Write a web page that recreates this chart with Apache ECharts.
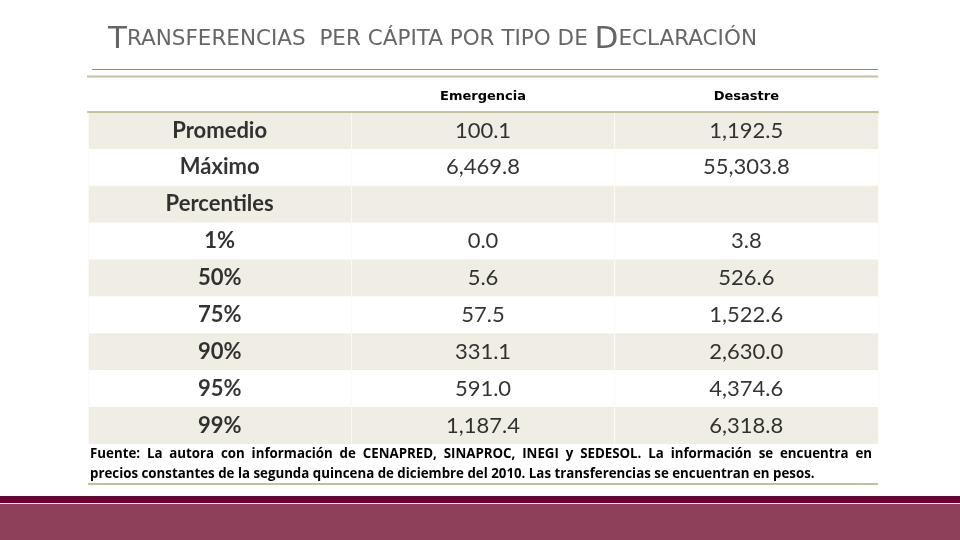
<!DOCTYPE html>
<html>
<head>
<meta charset="utf-8">
<script src="https://cdn.jsdelivr.net/npm/echarts@6/dist/echarts.min.js"></script>
<style>
  html, body { margin: 0; padding: 0; background: #fff; }
  #main { width: 960px; height: 540px; }
</style>
</head>
<body>
<div id="main"></div>
<script>
// columns of the table
const columns = ['', 'Emergencia', 'Desastre'];
// rows of the table
const rowLabels = ['Promedio', 'Máximo', 'Percentiles', '1%', '50%', '75%', '90%', '95%', '99%'];
// per capita transfers (pesos)
const emergencia = [100.1, 6469.8, null, 0.0, 5.6, 57.5, 331.1, 591.0, 1187.4];
const desastre = [1192.5, 55303.8, null, 3.8, 526.6, 1522.6, 2630.0, 4374.6, 6318.8];

const footerLines = [
    'Fuente: La autora con información de CENAPRED, SINAPROC, INEGI y  SEDESOL. La información se encuentra en',
    'precios constantes de la segunda quincena de diciembre del 2010. Las transferencias se encuentran en pesos.'
];

const olive = '#c4c09c';
const shade = '#efede4';
const footFont = 'bold 13.3px "Open Sans"';
const titleFont = "'DejaVu Sans ExtraLight', 'DejaVu Sans'";

function fmt(v) {
    return v.toLocaleString('en-US', { minimumFractionDigits: 1, maximumFractionDigits: 1 });
}

function cells(col, values) {
    const out = [];
    values.forEach(function (v, i) {
        if (v !== null) out.push([col, i, v]);
    });
    return out;
}

// justified first line of the note, like the slide
var ctx = document.createElement('canvas').getContext('2d');
ctx.font = footFont;
function justified(text, y, x0, x1) {
    var words = text.split(/ +/);
    var widths = words.map(function (w) { return ctx.measureText(w).width; });
    var total = widths.reduce(function (a, b) { return a + b; }, 0);
    var gap = (x1 - x0 - total) / (words.length - 1);
    var x = x0;
    return words.map(function (w, i) {
        var el = { type: 'text', style: { x: x, y: y, text: w, font: footFont, fill: '#000', verticalAlign: 'middle' } };
        x += widths[i] + gap;
        return el;
    });
}

var myChart = echarts.init(document.getElementById('main'));

var option = {
    animation: false,
    title: {
        left: 103,
        top: 19,
        text: '{a|T}{b|RANSFERENCIAS  PER CÁPITA POR TIPO DE }{a|D}{b|ECLARACIÓN}',
        textStyle: {
            rich: {
                a: { fontFamily: titleFont, fontSize: 31, color: '#666666', fontWeight: 'normal' },
                b: { fontFamily: titleFont, fontSize: 21.5, color: '#666666', fontWeight: 'normal' }
            }
        }
    },
    grid: {
        left: 88,
        right: 82,
        top: 112,
        bottom: 96
    },
    xAxis: {
        type: 'category',
        position: 'top',
        data: columns,
        axisTick: { show: false },
        axisLine: { show: true, lineStyle: { color: olive, width: 2 } },
        axisLabel: {
            margin: 9,
            fontFamily: 'DejaVu Sans',
            fontWeight: 'bold',
            fontSize: 13,
            color: '#000'
        },
        splitLine: { show: true, lineStyle: { color: '#fbfaf6', width: 1 } }
    },
    yAxis: {
        type: 'category',
        inverse: true,
        data: rowLabels,
        axisLine: { show: false },
        axisTick: { show: false },
        axisLabel: { show: false },
        splitLine: { show: false },
        splitArea: { show: true, areaStyle: { color: [shade, '#ffffff'] } }
    },
    series: [
        {
            type: 'scatter',
            symbolSize: 0,
            data: rowLabels.map(function (r, i) { return [0, i, r]; }),
            label: {
                show: true,
                position: 'inside',
                formatter: function (p) { return p.value[2]; },
                fontFamily: 'Lato',
                fontWeight: 'bold',
                fontSize: 22,
                color: '#000'
            }
        },
        {
            type: 'scatter',
            symbolSize: 0,
            data: cells(1, emergencia),
            label: {
                show: true,
                position: 'inside',
                formatter: function (p) { return fmt(p.value[2]); },
                fontFamily: 'Lato',
                fontSize: 22,
                color: '#000'
            }
        },
        {
            type: 'scatter',
            symbolSize: 0,
            data: cells(2, desastre),
            label: {
                show: true,
                position: 'inside',
                formatter: function (p) { return fmt(p.value[2]); },
                fontFamily: 'Lato',
                fontSize: 22,
                color: '#000'
            }
        }
    ],
    graphic: [
        { type: 'line', shape: { x1: 92, y1: 69.5, x2: 878, y2: 69.5 }, style: { stroke: '#8c8c8c', lineWidth: 1 } },
        { type: 'line', shape: { x1: 87, y1: 76.5, x2: 878, y2: 76.5 }, style: { stroke: olive, lineWidth: 2 } },
        { type: 'text', style: { x: 90, y: 474, text: footerLines[1], font: footFont, fill: '#000', verticalAlign: 'middle' } },
        { type: 'line', shape: { x1: 88, y1: 484, x2: 878, y2: 484 }, style: { stroke: olive, lineWidth: 2 } },
        { type: 'rect', shape: { x: 0, y: 496, width: 960, height: 7 }, style: { fill: '#6d0032' } },
        { type: 'rect', shape: { x: 0, y: 504, width: 960, height: 36 }, style: { fill: '#8e405b' } }
    ].concat(justified(footerLines[0], 454, 90, 872))
};

myChart.setOption(option);
</script>
</body>
</html>
